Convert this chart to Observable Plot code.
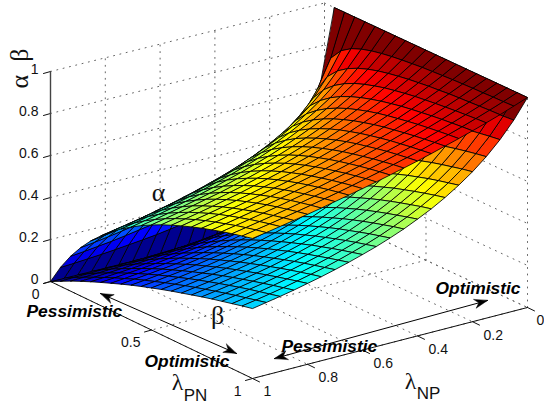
<!DOCTYPE html>
<html><head><meta charset="utf-8">
<script src="https://cdn.jsdelivr.net/npm/d3@7"></script>
<script src="https://cdn.jsdelivr.net/npm/@observablehq/plot@0.6"></script>
<style>html,body{margin:0;padding:0;background:#fff}svg{display:block}</style>
</head><body><div id="chart"></div>
<script>
const pnGrid=[0,.05,.1,.15,.2,.25,.3,.35,.4,.45,.5,.55,.6,.65,.7,.75,.8,.85,.9,.95,1];
const npGrid=[0,.05,.1,.15,.2,.25,.3,.35,.4,.45,.5,.55,.6,.65,.7,.75,.8,.85,.9,.95,1];
const zTicks=[0,.2,.4,.6,.8,1];
const pnTicks=[0,.5,1];
const npTicks=[0,.2,.4,.6,.8,1];
// rows: lambda_PN, columns: lambda_NP
const alphaValues=[
[null,0,0,0,0,0,0,0,0,0,0,0,0,0,0,0,0,0,0,0,0],
[1,.667,.5,.4,.333,.286,.25,.222,.2,.182,.167,.154,.143,.133,.125,.118,.111,.105,.1,.095,.091],
[1,.8,.667,.571,.5,.444,.4,.364,.333,.308,.286,.267,.25,.235,.222,.211,.2,.19,.182,.174,.167],
[1,.857,.75,.667,.6,.545,.5,.462,.429,.4,.375,.353,.333,.316,.3,.286,.273,.261,.25,.24,.231],
[1,.889,.8,.727,.667,.615,.571,.533,.5,.471,.444,.421,.4,.381,.364,.348,.333,.32,.308,.296,.286],
[1,.909,.833,.769,.714,.667,.625,.588,.556,.526,.5,.476,.455,.435,.417,.4,.385,.37,.357,.345,.333],
[1,.923,.857,.8,.75,.706,.667,.632,.6,.571,.545,.522,.5,.48,.462,.444,.429,.414,.4,.387,.375],
[1,.933,.875,.824,.778,.737,.7,.667,.636,.609,.583,.56,.538,.519,.5,.483,.467,.452,.438,.424,.412],
[1,.941,.889,.842,.8,.762,.727,.696,.667,.64,.615,.593,.571,.552,.533,.516,.5,.485,.471,.457,.444],
[1,.947,.9,.857,.818,.783,.75,.72,.692,.667,.643,.621,.6,.581,.562,.545,.529,.514,.5,.486,.474],
[1,.952,.909,.87,.833,.8,.769,.741,.714,.69,.667,.645,.625,.606,.588,.571,.556,.541,.526,.513,.5],
[1,.957,.917,.88,.846,.815,.786,.759,.733,.71,.688,.667,.647,.629,.611,.595,.579,.564,.55,.537,.524],
[1,.96,.923,.889,.857,.828,.8,.774,.75,.727,.706,.686,.667,.649,.632,.615,.6,.585,.571,.558,.545],
[1,.963,.929,.897,.867,.839,.813,.788,.765,.743,.722,.703,.684,.667,.65,.634,.619,.605,.591,.578,.565],
[1,.966,.933,.903,.875,.848,.824,.8,.778,.757,.737,.718,.7,.683,.667,.651,.636,.622,.609,.596,.583],
[1,.968,.938,.909,.882,.857,.833,.811,.789,.769,.75,.732,.714,.698,.682,.667,.652,.638,.625,.612,.6],
[1,.97,.941,.914,.889,.865,.842,.821,.8,.78,.762,.744,.727,.711,.696,.681,.667,.653,.64,.627,.615],
[1,.971,.944,.919,.895,.872,.85,.829,.81,.791,.773,.756,.739,.723,.708,.694,.68,.667,.654,.642,.63],
[1,.973,.947,.923,.9,.878,.857,.837,.818,.8,.783,.766,.75,.735,.72,.706,.692,.679,.667,.655,.643],
[1,.974,.95,.927,.905,.884,.864,.844,.826,.809,.792,.776,.76,.745,.731,.717,.704,.691,.679,.667,.655],
[1,.976,.952,.93,.909,.889,.87,.851,.833,.816,.8,.784,.769,.755,.741,.727,.714,.702,.69,.678,.667]
];
const betaValues=[
[null,0,0,0,0,0,0,0,0,0,0,0,0,0,0,0,0,0,0,0,0],
[1,.333,.2,.143,.111,.091,.077,.067,.059,.053,.048,.043,.04,.037,.034,.032,.03,.029,.027,.026,.024],
[1,.5,.333,.25,.2,.167,.143,.125,.111,.1,.091,.083,.077,.071,.067,.062,.059,.056,.053,.05,.048],
[1,.6,.429,.333,.273,.231,.2,.176,.158,.143,.13,.12,.111,.103,.097,.091,.086,.081,.077,.073,.07],
[1,.667,.5,.4,.333,.286,.25,.222,.2,.182,.167,.154,.143,.133,.125,.118,.111,.105,.1,.095,.091],
[1,.714,.556,.455,.385,.333,.294,.263,.238,.217,.2,.185,.172,.161,.152,.143,.135,.128,.122,.116,.111],
[1,.75,.6,.5,.429,.375,.333,.3,.273,.25,.231,.214,.2,.188,.176,.167,.158,.15,.143,.136,.13],
[1,.778,.636,.538,.467,.412,.368,.333,.304,.28,.259,.241,.226,.212,.2,.189,.179,.171,.163,.156,.149],
[1,.8,.667,.571,.5,.444,.4,.364,.333,.308,.286,.267,.25,.235,.222,.211,.2,.19,.182,.174,.167],
[1,.818,.692,.6,.529,.474,.429,.391,.36,.333,.31,.29,.273,.257,.243,.231,.22,.209,.2,.191,.184],
[1,.833,.714,.625,.556,.5,.455,.417,.385,.357,.333,.312,.294,.278,.263,.25,.238,.227,.217,.208,.2],
[1,.846,.733,.647,.579,.524,.478,.44,.407,.379,.355,.333,.314,.297,.282,.268,.256,.244,.234,.224,.216],
[1,.857,.75,.667,.6,.545,.5,.462,.429,.4,.375,.353,.333,.316,.3,.286,.273,.261,.25,.24,.231],
[1,.867,.765,.684,.619,.565,.52,.481,.448,.419,.394,.371,.351,.333,.317,.302,.289,.277,.265,.255,.245],
[1,.875,.778,.7,.636,.583,.538,.5,.467,.438,.412,.389,.368,.35,.333,.318,.304,.292,.28,.269,.259],
[1,.882,.789,.714,.652,.6,.556,.517,.484,.455,.429,.405,.385,.366,.349,.333,.319,.306,.294,.283,.273],
[1,.889,.8,.727,.667,.615,.571,.533,.5,.471,.444,.421,.4,.381,.364,.348,.333,.32,.308,.296,.286],
[1,.895,.81,.739,.68,.63,.586,.548,.515,.486,.459,.436,.415,.395,.378,.362,.347,.333,.321,.309,.298],
[1,.9,.818,.75,.692,.643,.6,.562,.529,.5,.474,.45,.429,.409,.391,.375,.36,.346,.333,.321,.31],
[1,.905,.826,.76,.704,.655,.613,.576,.543,.514,.487,.463,.442,.422,.404,.388,.373,.358,.345,.333,.322],
[1,.909,.833,.769,.714,.667,.625,.588,.556,.526,.5,.476,.455,.435,.417,.4,.385,.37,.357,.345,.333]
];
const jetStops=[0,.125,.375,.625,.875,1];
const jetColors=["#00008f","#0000ff","#00ffff","#ffff00","#ff0000","#800000"];

// view of the 3-D box onto the drawing plane (slight perspective at the far corner)
function view(pn,np,z){
  const far=(1-pn)*(1-np);
  return {x:50+202*pn+275*(1-np)-far, y:281+97*pn-71*(1-np)+2.5*far-210*z};
}
// surface cells, painted back to front
const cellPoints=[];
pnGrid.slice(0,-1).forEach((p,i)=>npGrid.slice(0,-1).forEach((n,j)=>{
  [["beta",betaValues],["alpha",alphaValues]].forEach(([name,V])=>{
    const c=[[i,j],[i+1,j],[i+1,j+1],[i,j+1]];
    if(c.some(([a,b])=>V[a][b]===null))return;
    c.forEach(([a,b])=>{
      const q=view(pnGrid[a],npGrid[b],V[a][b]);
      cellPoints.push({...q,cell:`${name}-${i}-${j}`,v:V[i][j]});
    });
  });
}));
// dotted box grid
const gridPoints=[];
let gid=0;
const seg=(a,b)=>{gid++;gridPoints.push({...a,id:gid},{...b,id:gid});};
zTicks.forEach(z=>{seg(view(0,1,z),view(0,0,z));seg(view(0,0,z),view(1,0,z));});
npTicks.forEach(n=>{seg(view(0,n,0),view(0,n,1));seg(view(0,n,0),view(1,n,0));});
pnTicks.forEach(p=>{seg(view(p,0,0),view(p,0,1));seg(view(p,0,0),view(p,1,0));});
// axis lines and ticks
const axisPoints=[];
let aid=0;
const axSeg=(a,b)=>{aid++;axisPoints.push({...a,id:aid},{...b,id:aid});};
const zAxisPoints=[view(0,1,0),view(0,1,1)];
axSeg(view(0,1,0),view(1,1,0));
axSeg(view(1,1,0),view(1,0,0));
zTicks.forEach(z=>{const q=view(0,1,z);axSeg(q,{x:q.x-7,y:q.y+2});});
pnTicks.forEach(p=>{const q=view(p,1,0);axSeg(q,{x:q.x-7,y:q.y+2});});
npTicks.forEach(n=>{const q=view(1,n,0);axSeg(q,{x:q.x+7,y:q.y+3.4});});

const font="Liberation Sans, Arial, sans-serif";
const serif="Liberation Serif, DejaVu Serif, serif";
const zLabels=zTicks.map(z=>({...view(0,1,z),t:String(z)}));
const pnLabels=pnTicks.map(p=>({...view(p,1,0),t:String(p)}));
const npLabels=npTicks.map(n=>{const q=view(1,n,0);return {x:n===0?q.x-2:q.x,y:q.y,t:String(n)};});
const symbolLabels=[
 {x:158,y:192,t:"α",s:26},{x:217,y:315,t:"β",s:26},
 {x:177,y:382,t:"λ",s:24},{x:410,y:381,t:"λ",s:24}];
const subLabels=[{x:195,y:395,t:"PN"},{x:428,y:393,t:"NP"}];
const moodLabels=[
 {x:26,y:311,t:"Pessimistic"},{x:144,y:361,t:"Optimistic"},
 {x:435,y:288,t:"Optimistic"},{x:281,y:346,t:"Pessimistic"}];
// double-headed arrows
const arrowEnds=[
 {a:{x:100,y:293},b:{x:236,y:353}},
 {a:{x:274,y:358},b:{x:487,y:300}}];
const shaftPoints=[],headPoints=[];
arrowEnds.forEach((e,k)=>{
  shaftPoints.push({...e.a,id:k},{...e.b,id:k});
  [[e.a,e.b],[e.b,e.a]].forEach(([tail,tip],h)=>{
    const d=Math.hypot(tip.x-tail.x,tip.y-tail.y),ux=(tip.x-tail.x)/d,uy=(tip.y-tail.y)/d;
    const at=(back,side)=>({x:tip.x-ux*back-uy*side,y:tip.y-uy*back+ux*side,id:`${k}-${h}`});
    headPoints.push(at(0,0),at(13,4.5),at(9,0),at(13,-4.5));
  });
});

const chart=Plot.plot({
  width:544,height:405,margin:0,
  style:{background:"#fff"},
  x:{domain:[0,544],range:[0,544],axis:null},
  y:{domain:[0,405],range:[0,405],axis:null},
  color:{type:"linear",domain:jetStops,range:jetColors,clamp:true},
  marks:[
    Plot.line(gridPoints,{x:"x",y:"y",z:"id",stroke:"#666",strokeWidth:1,strokeDasharray:"1 5.5"}),
    Plot.line(axisPoints,{x:"x",y:"y",z:"id",stroke:"#111",strokeWidth:1}),
    Plot.line(zAxisPoints,{x:"x",y:"y",stroke:"#444",strokeWidth:1.4}),
    Plot.line(cellPoints,{x:"x",y:"y",z:"cell",fill:"v",stroke:"#000",strokeWidth:.85,curve:"linear-closed"}),
    Plot.text(zLabels,{x:"x",y:"y",text:"t",dx:-12,dy:-2,textAnchor:"end",fontSize:14,fontFamily:font,fill:"#111"}),
    Plot.text(pnLabels,{x:"x",y:"y",text:"t",dx:-11,dy:13,textAnchor:"end",fontSize:14,fontFamily:font,fill:"#111"}),
    Plot.text(npLabels,{x:"x",y:"y",text:"t",dx:11,dy:13.5,textAnchor:"start",fontSize:14,fontFamily:font,fill:"#111"}),
    Plot.text([{x:19,y:68,t:"α\u00a0\u00a0β"}],{x:"x",y:"y",text:"t",rotate:-90,fontSize:26,fontFamily:serif,fill:"#111"}),
    Plot.text(symbolLabels,{x:"x",y:"y",text:"t",fontSize:"s",fontFamily:serif,fill:"#111"}),
    Plot.text(subLabels,{x:"x",y:"y",text:"t",fontSize:17,fontFamily:font,fill:"#111"}),
    Plot.line(shaftPoints,{x:"x",y:"y",z:"id",stroke:"#000",strokeWidth:1}),
    Plot.line(headPoints,{x:"x",y:"y",z:"id",fill:"#000",stroke:"#000",strokeWidth:.5,curve:"linear-closed"}),
    Plot.text(moodLabels,{x:"x",y:"y",text:"t",textAnchor:"start",fontSize:17.4,fontWeight:"bold",fontStyle:"italic",fontFamily:font,fill:"#000"})
  ]
});
document.getElementById("chart").appendChild(chart);
</script></body></html>
